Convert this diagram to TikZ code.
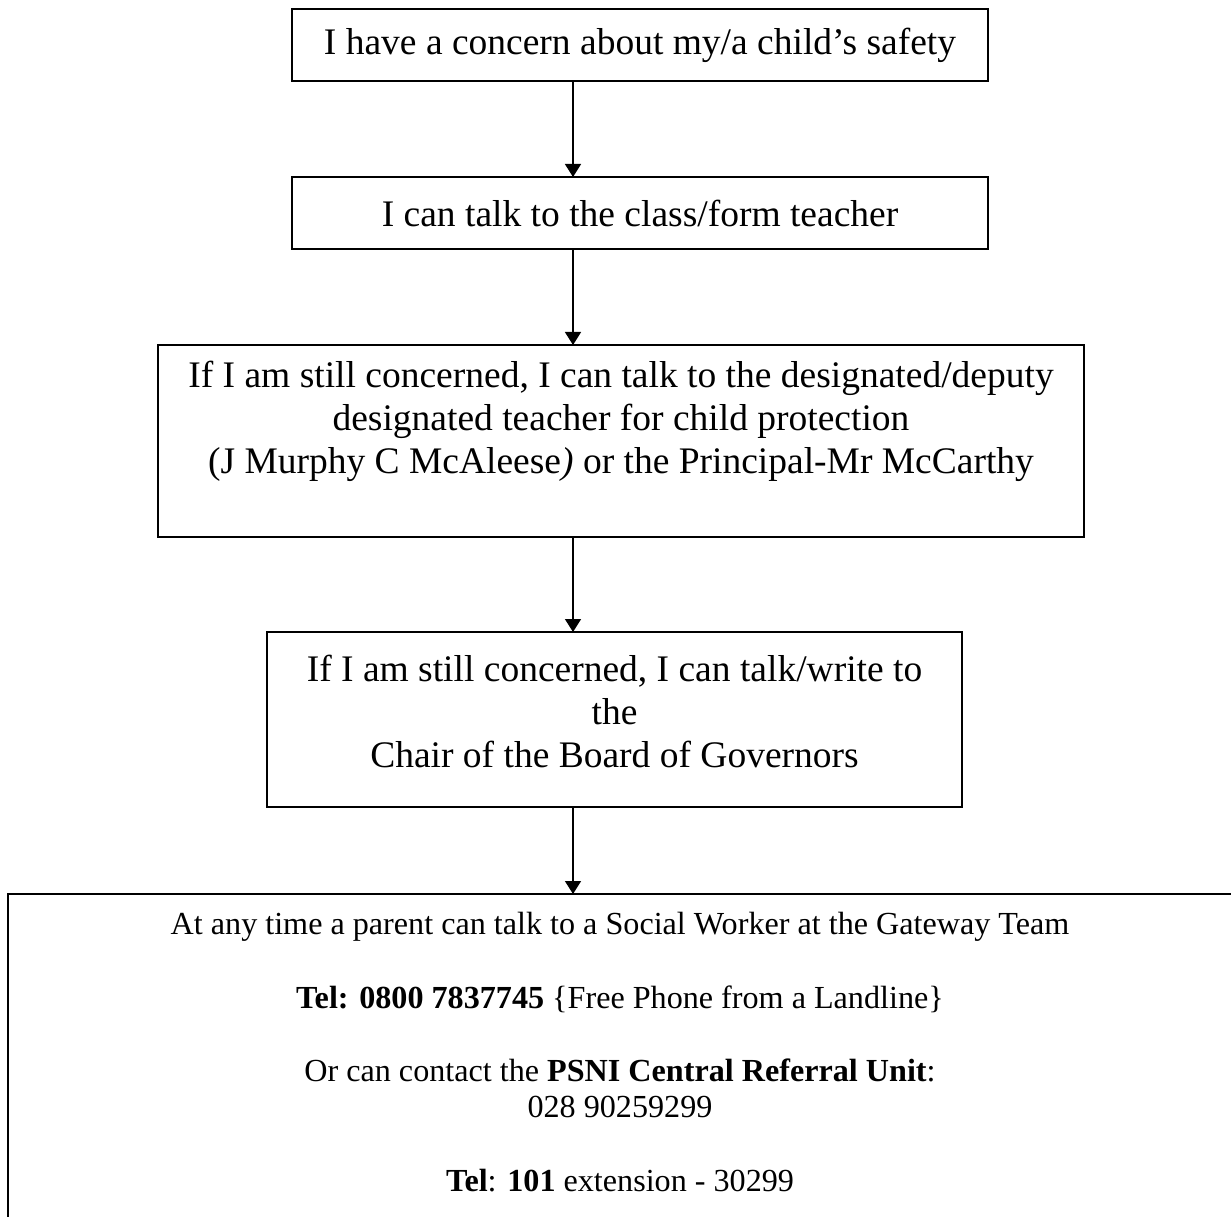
\documentclass[tikz,border=0pt]{standalone}
\usepackage{fontspec}
\setmainfont{Liberation Serif}
\usetikzlibrary{arrows.meta}
\begin{document}
\begin{tikzpicture}[x=0.4pt,y=-0.4pt,
  box/.style={draw, rectangle, line width=0.75pt, inner sep=0pt, outer sep=0pt},
  big/.style={font=\fontsize{15}{17.2}\selectfont, align=center, inner sep=0pt},
  small/.style={font=\fontsize{12.86}{14.64}\selectfont, align=center, inner sep=0pt},
  flow/.style={line width=0.6pt, -{Triangle[length=5.2pt,width=6.4pt]}}]
\clip (0,0) rectangle (1231,1217);
\fill[white] (0,0) rectangle (1231,1217);

% the steps, top to bottom
\node[box, big, minimum width=278.4pt, minimum height=28.8pt] (b1) at (640,45)
  {I have a concern about my/a child’s safety};
\node[box, big, minimum width=278.4pt, minimum height=28.8pt] (b2) at (640,213)
  {I can talk to the class/form teacher};

\node[box, minimum width=370.4pt, minimum height=76.8pt] (b3) at (621,441) {};
\node[big] (t3) at (621,421)
  {If I am still concerned, I can talk to the designated/deputy\\
   designated teacher for child protection\\
   (J Murphy C McAleese\textit{)} or the Principal-Mr McCarthy};

\node[box, minimum width=278pt, minimum height=70pt] (b4) at (614.5,719.5) {};
\node[big] (t4) at (614.5,711)
  {If I am still concerned, I can talk/write to\\
   the\\
   Chair of the Board of Governors};

\node[box, minimum width=491.2pt, minimum height=146.4pt] (b5) at (622,1077) {};
\node[small] (t5) at (620,1052)
  {At any time a parent can talk to a Social Worker at the Gateway Team\\[14.64pt]
   \textbf{Tel: 0800 7837745} \{Free Phone from a Landline\}\\[14.64pt]
   Or can contact the \textbf{PSNI Central Referral Unit}:\\
   028 90259299\\[14.64pt]
   \textbf{Tel}: \textbf{101} extension - 30299};

% connectors share one vertical line
\coordinate (ax) at (573,0);
\draw[flow] (b1.south -| ax) -- (b2.north -| ax);
\draw[flow] (b2.south -| ax) -- (b3.north -| ax);
\draw[flow] (b3.south -| ax) -- (b4.north -| ax);
\draw[flow] (b4.south -| ax) -- (b5.north -| ax);
\end{tikzpicture}
\end{document}
